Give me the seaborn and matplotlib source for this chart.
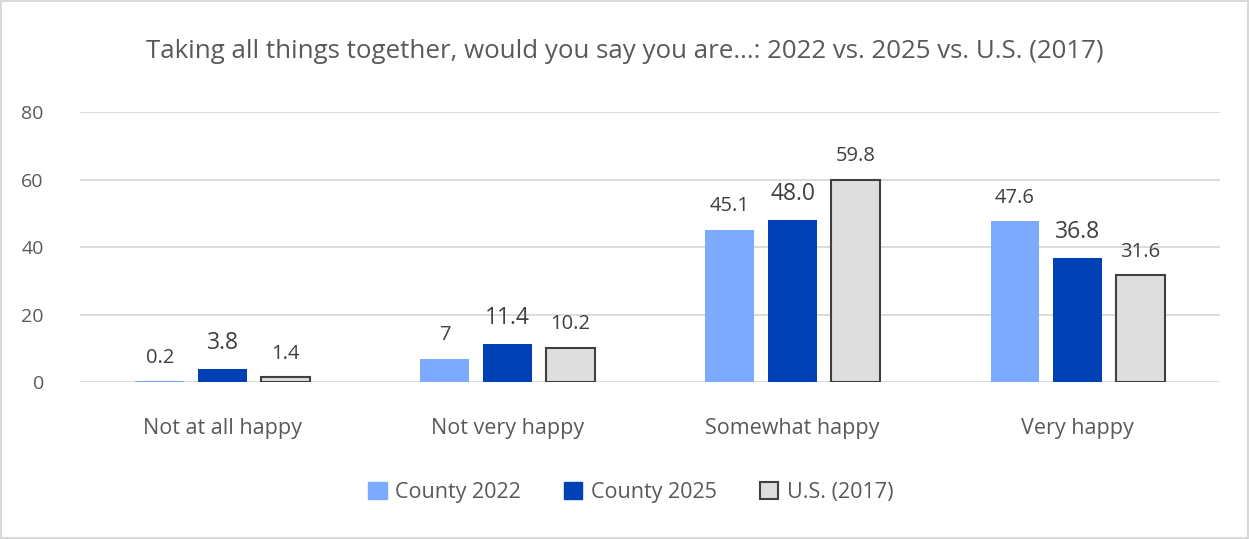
import matplotlib
matplotlib.use("Agg")
import matplotlib.pyplot as plt
import seaborn as sns
import pandas as pd
from matplotlib.patches import Rectangle

categories = ["Not at all happy", "Not very happy", "Somewhat happy", "Very happy"]
series = ["County 2022", "County 2025", "U.S. (2017)"]
county_2022 = [0.2, 7, 45.1, 47.6]
county_2025 = [3.8, 11.4, 48.0, 36.8]
us_2017 = [1.4, 10.2, 59.8, 31.6]
label_2022 = ["0.2", "7", "45.1", "47.6"]
label_2025 = ["3.8", "11.4", "48.0", "36.8"]
label_us = ["1.4", "10.2", "59.8", "31.6"]
yticks = [0, 20, 40, 60, 80]
title = "Taking all things together, would you say you are...: 2022 vs. 2025 vs. U.S. (2017)"

rows = []
for s, vals in zip(series, [county_2022, county_2025, us_2017]):
    for c, v in zip(categories, vals):
        rows.append({"category": c, "series": s, "value": v})
df = pd.DataFrame(rows)

sns.set_theme(style="white")
plt.rcParams["font.family"] = ["Open Sans", "DejaVu Sans"]
text_color = "#595959"

fig = plt.figure(figsize=(12.49, 5.39), dpi=100)
ax = fig.add_axes([0.064, 0.291, 0.913, 0.501])

colors = ["#7BAAFF", "#0042B5", "#DEDEDE"]
sns.barplot(data=df, x="category", y="value", hue="series", order=categories,
            hue_order=series, palette=colors, width=0.66, gap=0.22,
            saturation=1, ax=ax, legend=False)

for i, cont in enumerate(ax.containers):
    for p in cont:
        if i == 2:
            p.set_edgecolor("#404040")
            p.set_linewidth(1.5)
        else:
            p.set_linewidth(0)

labels = [label_2022, label_2025, label_us]
sizes = [14.5, 16.5, 14.5]
for cont, lab, fs in zip(ax.containers, labels, sizes):
    ax.bar_label(cont, labels=lab, padding=10, fontsize=fs, color="#404040")

ax.set_ylim(0, 80)
ax.set_xlim(-0.5, 3.5)
ax.set_yticks(yticks)
ax.set_yticklabels([str(t) for t in yticks], fontsize=14, color=text_color)
ax.tick_params(axis="y", length=0, pad=26)
ax.tick_params(axis="x", length=0, pad=26, labelsize=15.5, labelcolor=text_color)
ax.grid(axis="y", color="#D9D9D9", linewidth=1.3)
ax.set_axisbelow(True)
for sp in ax.spines.values():
    sp.set_visible(False)
ax.set_xlabel("")
ax.set_ylabel("")

fig.text(0.5, 0.905, title, ha="center", va="center", fontsize=18.6, color=text_color)

handles = [Rectangle((0, 0), 1, 1, facecolor=colors[0], edgecolor=colors[0]),
           Rectangle((0, 0), 1, 1, facecolor=colors[1], edgecolor=colors[1]),
           Rectangle((0, 0), 1, 1, facecolor=colors[2], edgecolor="#404040", linewidth=1.5)]
leg = fig.legend(handles, series, loc="center", bbox_to_anchor=(0.505, 0.087), ncol=3,
                 frameon=False, fontsize=15.5, handlelength=0.85, handleheight=0.85,
                 handletextpad=0.4, columnspacing=2.0)
for t in leg.get_texts():
    t.set_color(text_color)

fig.patches.append(Rectangle((0.001, 0.002), 0.998, 0.996, transform=fig.transFigure,
                             fill=False, edgecolor="#D9D9D9", linewidth=1.5))

fig.savefig("out.png", dpi=100, facecolor="white")
